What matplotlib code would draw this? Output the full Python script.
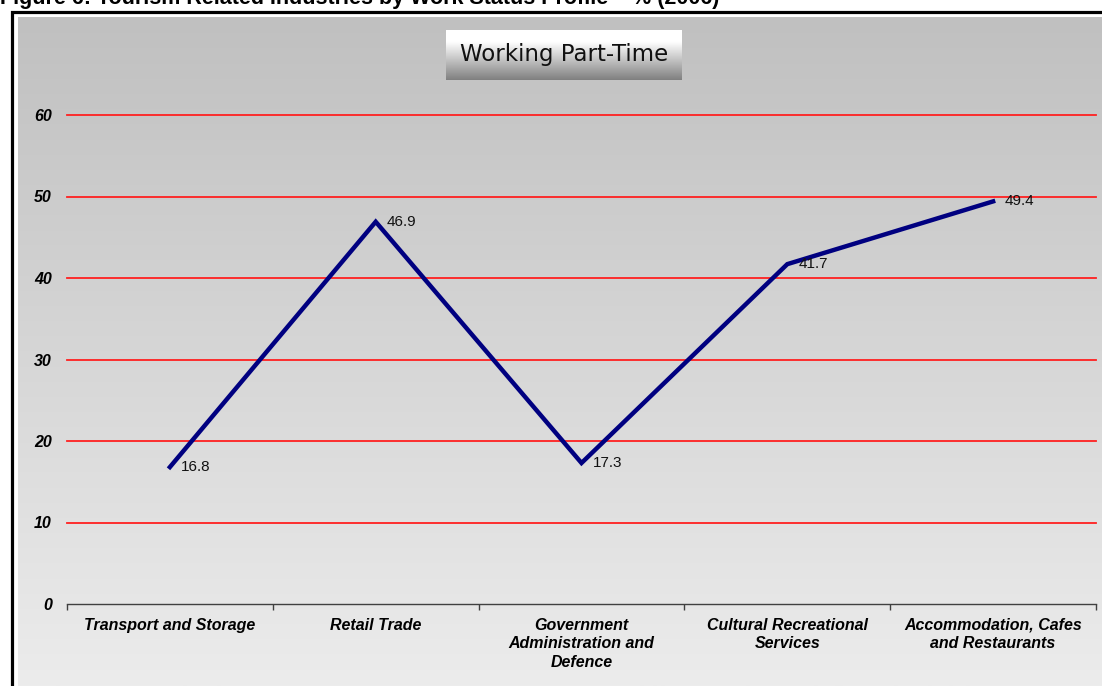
import numpy as np
import matplotlib
matplotlib.use("Agg")
import matplotlib.pyplot as plt
from matplotlib.patches import Rectangle

categories = ["Transport and Storage", "Retail Trade",
              "Government\nAdministration and\nDefence",
              "Cultural Recreational\nServices",
              "Accommodation, Cafes\nand Restaurants"]
values = [16.8, 46.9, 17.3, 41.7, 49.4]
yticks = [0, 10, 20, 30, 40, 50, 60]
chart_title = "Working Part-Time"
fig_title = "Figure 6: Tourism Related Industries by Work Status Profile \u2013 % (2006)"

plt.rcParams['font.family'] = ['Liberation Sans', 'DejaVu Sans']

W, H = 1102, 686
fig = plt.figure(figsize=(W / 100, H / 100), dpi=100)
fig.patch.set_facecolor('white')

# background gradient panel
bg = fig.add_axes([18 / W, 0, 1 - 18 / W, (H - 17) / H])
grad = np.linspace(192, 236, 256).reshape(-1, 1) / 255.0
bg.imshow(np.dstack([grad, grad, grad]), aspect='auto', extent=[0, 1, 0, 1],
          origin='upper')
bg.set_axis_off()

# outer frame
fig.patches.append(Rectangle((11.5 / W, -0.05), 1.2, (H - 11.5) / H + 0.05,
                             transform=fig.transFigure, fill=False,
                             edgecolor='black', linewidth=2.3, zorder=5))

# main axes
left, right = 67 / W, 1096 / W
bottom, top = 1 - 604 / H, 1 - 115 / H
ax = fig.add_axes([left, bottom, right - left, top - bottom])
ax.patch.set_alpha(0)
x = np.arange(len(values))
ax.set_xlim(-0.5, len(values) - 0.5)
ax.set_ylim(0, 60)
for yv in yticks[1:]:
    ax.axhline(yv, color='#ff2020', linewidth=1.3, zorder=1, clip_on=False)
ax.plot(x, values, color='#000080', linewidth=3.2, zorder=3,
        solid_joinstyle='miter')
for xi, v in zip(x, values):
    ax.annotate(f"{v}", (xi, v), xytext=(8, 0), textcoords='offset points',
                ha='left', va='center', fontsize=11, color='#111111')

for s in ['top', 'right', 'left']:
    ax.spines[s].set_visible(False)
ax.spines['bottom'].set_color('#404040')
ax.spines['bottom'].set_linewidth(1.0)

ax.set_yticks(yticks)
ax.set_yticklabels([str(t) for t in yticks], fontsize=11.5, fontweight='bold',
                   fontstyle='italic')
ax.tick_params(axis='y', length=0, pad=11)

ax.set_xticks(np.arange(len(values) + 1) - 0.5, minor=False)
ax.set_xticklabels([])
ax.tick_params(axis='x', which='major', direction='out', length=4,
               color='#404040', width=1)
ax.set_xticks(x, minor=True)
ax.set_xticklabels(categories, minor=True, fontsize=11.5, fontweight='bold',
                   fontstyle='italic', linespacing=1.28, va='top')
ax.tick_params(axis='x', which='minor', length=0, pad=10)

# chart title box with gradient
tb = fig.add_axes([446 / W, 1 - 80 / H, (682 - 446) / W, 50 / H])
g2 = np.clip(np.concatenate([np.ones(60), np.linspace(1.0, 0.5, 196)]), 0, 1).reshape(-1, 1)
tb.imshow(np.dstack([g2, g2, g2]), aspect='auto', extent=[0, 1, 0, 1],
          origin='upper')
tb.set_axis_off()
tb.text(0.5, 0.5, chart_title, ha='center', va='center', fontsize=16.5,
        color='#111111', transform=tb.transAxes, family='DejaVu Sans')

# figure title (cut off at top, as in the reference)
fig.text(0, 1 - 4 / H, fig_title, ha='left', va='baseline', fontsize=15.5,
         fontweight='bold', color='black')

fig.savefig("out.png", dpi=100)
